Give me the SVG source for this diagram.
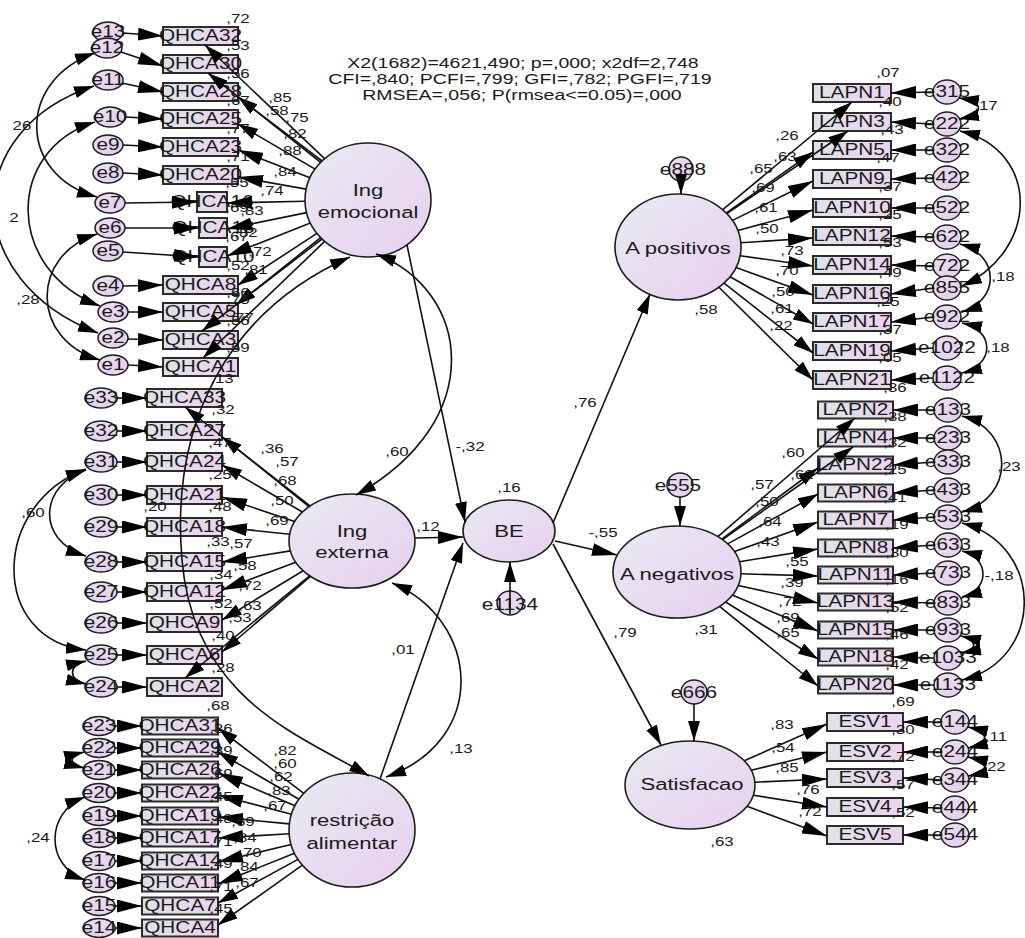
<svg xmlns="http://www.w3.org/2000/svg" width="1025" height="938" viewBox="0 0 1025 938">
<style>
.t{font-family:"Liberation Sans",Arial,sans-serif;fill:#1a1a1a;text-anchor:middle;transform-box:fill-box;transform-origin:center;transform:scaleX(1.3)}
.s17{font-size:17px}.s16{font-size:16px}.s15{font-size:15px}.s13{font-size:13px}
.bx{fill:url(#gb);stroke:#2b2b2b;stroke-width:2}
.ec{fill:url(#ge);stroke:#1e1e1e;stroke-width:1.5}
.lt{fill:url(#gl);stroke:#1e1e1e;stroke-width:1.6}
.c{fill:none;stroke:#111;stroke-width:1.6;marker-end:url(#ah)}
.h{marker-end:url(#ahh)}
.d{fill:none;stroke:#111;stroke-width:1.6;marker-end:url(#ah);marker-start:url(#ah)}
</style>
<defs>
<linearGradient id="gl" x1="0" y1="0" x2="1" y2="1"><stop offset="0" stop-color="#e9eaf2"/><stop offset="1" stop-color="#e7cfee"/></linearGradient>
<linearGradient id="gb" x1="0" y1="0" x2="1" y2="0"><stop offset="0" stop-color="#dfe2e9"/><stop offset="1" stop-color="#ecd3ee"/></linearGradient>
<linearGradient id="ge" x1="0" y1="0" x2="1" y2="1"><stop offset="0" stop-color="#ece0f2"/><stop offset="1" stop-color="#e4cdee"/></linearGradient>
<marker id="ah" viewBox="0 0 20 12" refX="20" refY="6" markerWidth="20" markerHeight="12" markerUnits="userSpaceOnUse" orient="auto-start-reverse"><path d="M0,0 L20,6 L0,12 z" fill="#000"/></marker>
<marker id="ahh" viewBox="0 0 25 13" refX="25" refY="6.5" markerWidth="25" markerHeight="13" markerUnits="userSpaceOnUse" orient="auto"><path d="M0,0 L25,6.5 L0,13 z" fill="#000"/></marker>
</defs>

<g id="fit">
<text class="t s15" x="523" y="68">X2(1682)=4621,490; p=,000; x2df=2,748</text>
<text class="t s15" x="520" y="84">CFI=,840; PCFI=,799; GFI=,782; PGFI=,719</text>
<text class="t s15" x="522" y="100">RMSEA=,056; P(rmsea&lt;=0.05)=,000</text>
</g>

<g id="latents">
<g id="IngEmocional"><ellipse class="lt" cx="368" cy="200" rx="63" ry="57"/><text class="t s17" x="368" y="196">Ing</text><text class="t s17" x="368" y="218">emocional</text></g>
<g id="IngExterna"><ellipse class="lt" cx="352" cy="541" rx="63" ry="47"/><text class="t s17" x="352" y="537">Ing</text><text class="t s17" x="352" y="558">externa</text></g>
<g id="Restricao"><ellipse class="lt" cx="352" cy="830" rx="63" ry="57"/><text class="t s17" x="352" y="826">restrição</text><text class="t s17" x="352" y="849">alimentar</text></g>
<g id="BE"><ellipse class="lt" cx="509" cy="531" rx="46" ry="31"/><text class="t s17" x="509" y="537">BE</text></g>
<g id="APositivos"><ellipse class="lt" cx="678" cy="247" rx="63" ry="53"/><text class="t s17" x="678" y="254">A positivos</text></g>
<g id="ANegativos"><ellipse class="lt" cx="677" cy="572" rx="64" ry="46"/><text class="t s17" x="677" y="580">A negativos</text></g>
<g id="Satisfacao"><ellipse class="lt" cx="690" cy="785" rx="65" ry="44"/><text class="t s17" x="692" y="790">Satisfacao</text></g>
</g>

<g id="observed-left">
<g id="QHCA32"><rect class="bx" x="163" y="27" width="75" height="18"/><text class="t s16" x="200.5" y="41.5">QHCA32</text></g>
<g id="QHCA30"><rect class="bx" x="163" y="55" width="75" height="18"/><text class="t s16" x="200.5" y="69.5">QHCA30</text></g>
<g id="QHCA28"><rect class="bx" x="163" y="83" width="75" height="18"/><text class="t s16" x="200.5" y="97.5">QHCA28</text></g>
<g id="QHCA25"><rect class="bx" x="163" y="110" width="75" height="18"/><text class="t s16" x="200.5" y="124.5">QHCA25</text></g>
<g id="QHCA23"><rect class="bx" x="163" y="138" width="75" height="18"/><text class="t s16" x="200.5" y="152.5">QHCA23</text></g>
<g id="QHCA20"><rect class="bx" x="163" y="166" width="75" height="18"/><text class="t s16" x="200.5" y="180.5">QHCA20</text></g>
<g id="QHCA16"><rect class="bx" x="197" y="192" width="30" height="20"/><text class="t s16" x="212" y="207.5">QHCA16</text></g>
<g id="QHCA13"><rect class="bx" x="199" y="218" width="28" height="20"/><text class="t s16" x="213" y="233.5">QHCA13</text></g>
<g id="QHCA10"><rect class="bx" x="199" y="247" width="28" height="20"/><text class="t s16" x="213" y="262.5">QHCA10</text></g>
<g id="QHCA8"><rect class="bx" x="163" y="276" width="75" height="18"/><text class="t s16" x="200.5" y="290.5">QHCA8</text></g>
<g id="QHCA5"><rect class="bx" x="163" y="303" width="75" height="18"/><text class="t s16" x="200.5" y="317.5">QHCA5</text></g>
<g id="QHCA3"><rect class="bx" x="163" y="331" width="75" height="18"/><text class="t s16" x="200.5" y="345.5">QHCA3</text></g>
<g id="QHCA1"><rect class="bx" x="163" y="358" width="75" height="18"/><text class="t s16" x="200.5" y="372.5">QHCA1</text></g>

<g id="QHCA33"><rect class="bx" x="147" y="389" width="75" height="18"/><text class="t s16" x="184.5" y="403.5">QHCA33</text></g>
<g id="QHCA27"><rect class="bx" x="147" y="422" width="75" height="18"/><text class="t s16" x="184.5" y="436.5">QHCA27</text></g>
<g id="QHCA24"><rect class="bx" x="147" y="453" width="75" height="18"/><text class="t s16" x="184.5" y="467.5">QHCA24</text></g>
<g id="QHCA21"><rect class="bx" x="147" y="486" width="75" height="18"/><text class="t s16" x="184.5" y="500.5">QHCA21</text></g>
<g id="QHCA18"><rect class="bx" x="147" y="518" width="75" height="18"/><text class="t s16" x="184.5" y="532.5">QHCA18</text></g>
<g id="QHCA15"><rect class="bx" x="147" y="553" width="75" height="18"/><text class="t s16" x="184.5" y="567.5">QHCA15</text></g>
<g id="QHCA12"><rect class="bx" x="147" y="583" width="75" height="18"/><text class="t s16" x="184.5" y="597.5">QHCA12</text></g>
<g id="QHCA9"><rect class="bx" x="147" y="614" width="75" height="18"/><text class="t s16" x="184.5" y="628.5">QHCA9</text></g>
<g id="QHCA6"><rect class="bx" x="147" y="646" width="75" height="18"/><text class="t s16" x="184.5" y="660.5">QHCA6</text></g>
<g id="QHCA2"><rect class="bx" x="147" y="678" width="75" height="18"/><text class="t s16" x="184.5" y="692.5">QHCA2</text></g>

<g id="QHCA31"><rect class="bx" x="142" y="717.5" width="76" height="17"/><text class="t s16" x="180" y="731.5">QHCA31</text></g>
<g id="QHCA29"><rect class="bx" x="142" y="739.5" width="76" height="17"/><text class="t s16" x="180" y="753.5">QHCA29</text></g>
<g id="QHCA26"><rect class="bx" x="142" y="761.5" width="76" height="17"/><text class="t s16" x="180" y="775.5">QHCA26</text></g>
<g id="QHCA22"><rect class="bx" x="142" y="784.5" width="76" height="17"/><text class="t s16" x="180" y="798.5">QHCA22</text></g>
<g id="QHCA19"><rect class="bx" x="142" y="807.5" width="76" height="17"/><text class="t s16" x="180" y="821.5">QHCA19</text></g>
<g id="QHCA17"><rect class="bx" x="142" y="829.5" width="76" height="17"/><text class="t s16" x="180" y="843.5">QHCA17</text></g>
<g id="QHCA14"><rect class="bx" x="142" y="852.5" width="76" height="17"/><text class="t s16" x="180" y="866.5">QHCA14</text></g>
<g id="QHCA11"><rect class="bx" x="142" y="874.5" width="76" height="17"/><text class="t s16" x="180" y="888.5">QHCA11</text></g>
<g id="QHCA7"><rect class="bx" x="142" y="897.5" width="76" height="17"/><text class="t s16" x="180" y="911.5">QHCA7</text></g>
<g id="QHCA4"><rect class="bx" x="142" y="919.5" width="76" height="17"/><text class="t s16" x="180" y="933.5">QHCA4</text></g>
</g>

<g id="errors-left">
<g id="e13"><ellipse class="ec" cx="108" cy="32" rx="15" ry="10"/><text class="t s16" x="108" y="37.5">e13</text></g>
<g id="e12"><ellipse class="ec" cx="107" cy="48" rx="15" ry="10"/><text class="t s16" x="107" y="53.5">e12</text></g>
<g id="e11"><ellipse class="ec" cx="108" cy="80" rx="15" ry="10"/><text class="t s16" x="108" y="85.5">e11</text></g>
<g id="e10"><ellipse class="ec" cx="110" cy="117" rx="15" ry="10"/><text class="t s16" x="110" y="122.5">e10</text></g>
<g id="e9"><ellipse class="ec" cx="108" cy="145" rx="15" ry="10"/><text class="t s16" x="108" y="150.5">e9</text></g>
<g id="e8"><ellipse class="ec" cx="108" cy="173" rx="15" ry="10"/><text class="t s16" x="108" y="178.5">e8</text></g>
<g id="e7"><ellipse class="ec" cx="110" cy="203" rx="15" ry="10"/><text class="t s16" x="110" y="208.5">e7</text></g>
<g id="e6"><ellipse class="ec" cx="110" cy="228" rx="15" ry="10"/><text class="t s16" x="110" y="233.5">e6</text></g>
<g id="e5"><ellipse class="ec" cx="108" cy="251" rx="15" ry="10"/><text class="t s16" x="108" y="256.5">e5</text></g>
<g id="e4"><ellipse class="ec" cx="108" cy="286" rx="15" ry="10"/><text class="t s16" x="108" y="291.5">e4</text></g>
<g id="e3"><ellipse class="ec" cx="113" cy="312" rx="15" ry="10"/><text class="t s16" x="113" y="317.5">e3</text></g>
<g id="e2"><ellipse class="ec" cx="113" cy="338" rx="15" ry="10"/><text class="t s16" x="113" y="343.5">e2</text></g>
<g id="e1"><ellipse class="ec" cx="113" cy="365" rx="15" ry="10"/><text class="t s16" x="113" y="370.5">e1</text></g>
<g id="e33"><ellipse class="ec" cx="101" cy="398" rx="16" ry="10"/><text class="t s16" x="101" y="403.5">e33</text></g>
<g id="e32"><ellipse class="ec" cx="101" cy="431" rx="16" ry="10"/><text class="t s16" x="101" y="436.5">e32</text></g>
<g id="e31"><ellipse class="ec" cx="101" cy="462" rx="16" ry="10"/><text class="t s16" x="101" y="467.5">e31</text></g>
<g id="e30"><ellipse class="ec" cx="101" cy="495" rx="16" ry="10"/><text class="t s16" x="101" y="500.5">e30</text></g>
<g id="e29"><ellipse class="ec" cx="101" cy="527" rx="16" ry="10"/><text class="t s16" x="101" y="532.5">e29</text></g>
<g id="e28"><ellipse class="ec" cx="101" cy="562" rx="16" ry="10"/><text class="t s16" x="101" y="567.5">e28</text></g>
<g id="e27"><ellipse class="ec" cx="101" cy="592" rx="16" ry="10"/><text class="t s16" x="101" y="597.5">e27</text></g>
<g id="e26"><ellipse class="ec" cx="101" cy="623" rx="16" ry="10"/><text class="t s16" x="101" y="628.5">e26</text></g>
<g id="e25"><ellipse class="ec" cx="101" cy="655" rx="16" ry="10"/><text class="t s16" x="101" y="660.5">e25</text></g>
<g id="e24"><ellipse class="ec" cx="101" cy="687" rx="16" ry="10"/><text class="t s16" x="101" y="692.5">e24</text></g>
<g id="e23"><ellipse class="ec" cx="99" cy="726" rx="16" ry="9.5"/><text class="t s16" x="99" y="731.5">e23</text></g>
<g id="e22"><ellipse class="ec" cx="99" cy="748" rx="16" ry="9.5"/><text class="t s16" x="99" y="753.5">e22</text></g>
<g id="e21"><ellipse class="ec" cx="99" cy="770" rx="16" ry="9.5"/><text class="t s16" x="99" y="775.5">e21</text></g>
<g id="e20"><ellipse class="ec" cx="99" cy="793" rx="16" ry="9.5"/><text class="t s16" x="99" y="798.5">e20</text></g>
<g id="e19"><ellipse class="ec" cx="99" cy="816" rx="16" ry="9.5"/><text class="t s16" x="99" y="821.5">e19</text></g>
<g id="e18"><ellipse class="ec" cx="99" cy="838" rx="16" ry="9.5"/><text class="t s16" x="99" y="843.5">e18</text></g>
<g id="e17"><ellipse class="ec" cx="99" cy="861" rx="16" ry="9.5"/><text class="t s16" x="99" y="866.5">e17</text></g>
<g id="e16"><ellipse class="ec" cx="99" cy="883" rx="16" ry="9.5"/><text class="t s16" x="99" y="888.5">e16</text></g>
<g id="e15"><ellipse class="ec" cx="99" cy="906" rx="16" ry="9.5"/><text class="t s16" x="99" y="911.5">e15</text></g>
<g id="e14"><ellipse class="ec" cx="99" cy="928" rx="16" ry="9.5"/><text class="t s16" x="99" y="933.5">e14</text></g>
</g>

<g id="observed-right">
<g id="LAPN1"><rect class="bx" x="813" y="84" width="78" height="18"/><text class="t s16" x="852" y="98.5">LAPN1</text></g>
<g id="LAPN3"><rect class="bx" x="813" y="113" width="78" height="18"/><text class="t s16" x="852" y="127.5">LAPN3</text></g>
<g id="LAPN5"><rect class="bx" x="813" y="141" width="78" height="18"/><text class="t s16" x="852" y="155.5">LAPN5</text></g>
<g id="LAPN9"><rect class="bx" x="813" y="170" width="78" height="18"/><text class="t s16" x="852" y="184.5">LAPN9</text></g>
<g id="LAPN10"><rect class="bx" x="813" y="199" width="78" height="18"/><text class="t s16" x="852" y="213.5">LAPN10</text></g>
<g id="LAPN12"><rect class="bx" x="813" y="227" width="78" height="18"/><text class="t s16" x="852" y="241.5">LAPN12</text></g>
<g id="LAPN14"><rect class="bx" x="813" y="256" width="78" height="18"/><text class="t s16" x="852" y="270.5">LAPN14</text></g>
<g id="LAPN16"><rect class="bx" x="813" y="285" width="78" height="18"/><text class="t s16" x="852" y="299.5">LAPN16</text></g>
<g id="LAPN17"><rect class="bx" x="813" y="313" width="78" height="18"/><text class="t s16" x="852" y="327.5">LAPN17</text></g>
<g id="LAPN19"><rect class="bx" x="813" y="342" width="78" height="18"/><text class="t s16" x="852" y="356.5">LAPN19</text></g>
<g id="LAPN21"><rect class="bx" x="813" y="371" width="78" height="18"/><text class="t s16" x="852" y="385.5">LAPN21</text></g>

<g id="LAPN2"><rect class="bx" x="818" y="401.5" width="75" height="17"/><text class="t s16" x="855.5" y="415.5">LAPN2</text></g>
<g id="LAPN4"><rect class="bx" x="818" y="429.5" width="75" height="17"/><text class="t s16" x="855.5" y="443.5">LAPN4</text></g>
<g id="LAPN22"><rect class="bx" x="818" y="456.5" width="75" height="17"/><text class="t s16" x="855.5" y="470.5">LAPN22</text></g>
<g id="LAPN6"><rect class="bx" x="818" y="484.5" width="75" height="17"/><text class="t s16" x="855.5" y="498.5">LAPN6</text></g>
<g id="LAPN7"><rect class="bx" x="818" y="511.5" width="75" height="17"/><text class="t s16" x="855.5" y="525.5">LAPN7</text></g>
<g id="LAPN8"><rect class="bx" x="818" y="539.5" width="75" height="17"/><text class="t s16" x="855.5" y="553.5">LAPN8</text></g>
<g id="LAPN11"><rect class="bx" x="818" y="566.5" width="75" height="17"/><text class="t s16" x="855.5" y="580.5">LAPN11</text></g>
<g id="LAPN13"><rect class="bx" x="818" y="593.5" width="75" height="17"/><text class="t s16" x="855.5" y="607.5">LAPN13</text></g>
<g id="LAPN15"><rect class="bx" x="818" y="621.5" width="75" height="17"/><text class="t s16" x="855.5" y="635.5">LAPN15</text></g>
<g id="LAPN18"><rect class="bx" x="818" y="648.5" width="75" height="17"/><text class="t s16" x="855.5" y="662.5">LAPN18</text></g>
<g id="LAPN20"><rect class="bx" x="818" y="676.5" width="75" height="17"/><text class="t s16" x="855.5" y="690.5">LAPN20</text></g>

<g id="ESV1"><rect class="bx" x="827" y="713" width="76" height="18"/><text class="t s16" x="865" y="727.5">ESV1</text></g>
<g id="ESV2"><rect class="bx" x="827" y="743" width="76" height="18"/><text class="t s16" x="865" y="757.5">ESV2</text></g>
<g id="ESV3"><rect class="bx" x="827" y="769" width="76" height="18"/><text class="t s16" x="865" y="783.5">ESV3</text></g>
<g id="ESV4"><rect class="bx" x="827" y="798" width="76" height="18"/><text class="t s16" x="865" y="812.5">ESV4</text></g>
<g id="ESV5"><rect class="bx" x="827" y="826" width="76" height="18"/><text class="t s16" x="865" y="840.5">ESV5</text></g>
</g>

<g id="errors-right">
<g id="e315"><ellipse class="ec" cx="947" cy="92" rx="14" ry="12"/><text class="t s16" x="947" y="97.5">e315</text></g>
<g id="e222"><ellipse class="ec" cx="947" cy="124" rx="14" ry="12"/><text class="t s16" x="947" y="129.5">e222</text></g>
<g id="e322"><ellipse class="ec" cx="947" cy="150" rx="14" ry="12"/><text class="t s16" x="947" y="155.5">e322</text></g>
<g id="e422"><ellipse class="ec" cx="947" cy="178" rx="14" ry="12"/><text class="t s16" x="947" y="183.5">e422</text></g>
<g id="e522"><ellipse class="ec" cx="947" cy="208" rx="14" ry="12"/><text class="t s16" x="947" y="213.5">e522</text></g>
<g id="e622"><ellipse class="ec" cx="947" cy="237" rx="14" ry="12"/><text class="t s16" x="947" y="242.5">e622</text></g>
<g id="e722"><ellipse class="ec" cx="947" cy="266" rx="14" ry="12"/><text class="t s16" x="947" y="271.5">e722</text></g>
<g id="e855"><ellipse class="ec" cx="947" cy="288" rx="14" ry="12"/><text class="t s16" x="947" y="293.5">e855</text></g>
<g id="e922"><ellipse class="ec" cx="947" cy="317" rx="14" ry="12"/><text class="t s16" x="947" y="322.5">e922</text></g>
<g id="e1022"><ellipse class="ec" cx="947" cy="348" rx="14" ry="12"/><text class="t s16" x="947" y="353.5">e1022</text></g>
<g id="e1122"><ellipse class="ec" cx="947" cy="378" rx="14" ry="12"/><text class="t s16" x="947" y="383.5">e1122</text></g>
<g id="e133"><ellipse class="ec" cx="948" cy="410" rx="14" ry="12"/><text class="t s16" x="948" y="415.5">e133</text></g>
<g id="e233"><ellipse class="ec" cx="948" cy="438" rx="14" ry="12"/><text class="t s16" x="948" y="443.5">e233</text></g>
<g id="e333"><ellipse class="ec" cx="948" cy="462" rx="14" ry="12"/><text class="t s16" x="948" y="467.5">e333</text></g>
<g id="e433"><ellipse class="ec" cx="948" cy="490" rx="14" ry="12"/><text class="t s16" x="948" y="495.5">e433</text></g>
<g id="e533"><ellipse class="ec" cx="948" cy="517" rx="14" ry="12"/><text class="t s16" x="948" y="522.5">e533</text></g>
<g id="e633"><ellipse class="ec" cx="948" cy="545" rx="14" ry="12"/><text class="t s16" x="948" y="550.5">e633</text></g>
<g id="e733"><ellipse class="ec" cx="948" cy="573" rx="14" ry="12"/><text class="t s16" x="948" y="578.5">e733</text></g>
<g id="e833"><ellipse class="ec" cx="948" cy="603" rx="14" ry="12"/><text class="t s16" x="948" y="608.5">e833</text></g>
<g id="e933"><ellipse class="ec" cx="948" cy="630" rx="14" ry="12"/><text class="t s16" x="948" y="635.5">e933</text></g>
<g id="e1033"><ellipse class="ec" cx="948" cy="658" rx="14" ry="12"/><text class="t s16" x="948" y="663.5">e1033</text></g>
<g id="e1133"><ellipse class="ec" cx="948" cy="685" rx="14" ry="12"/><text class="t s16" x="948" y="690.5">e1133</text></g>
<g id="e144"><ellipse class="ec" cx="955" cy="722" rx="14" ry="12"/><text class="t s16" x="955" y="727.5">e144</text></g>
<g id="e244"><ellipse class="ec" cx="955" cy="752" rx="14" ry="12"/><text class="t s16" x="955" y="757.5">e244</text></g>
<g id="e344"><ellipse class="ec" cx="955" cy="780" rx="14" ry="12"/><text class="t s16" x="955" y="785.5">e344</text></g>
<g id="e444"><ellipse class="ec" cx="955" cy="808" rx="14" ry="12"/><text class="t s16" x="955" y="813.5">e444</text></g>
<g id="e544"><ellipse class="ec" cx="955" cy="835" rx="14" ry="12"/><text class="t s16" x="955" y="840.5">e544</text></g>
<g id="e1134"><ellipse class="ec" cx="510" cy="603" rx="13" ry="12"/><text class="t s16" x="510" y="610">e1134</text></g>
<g id="e555"><ellipse class="ec" cx="680" cy="485" rx="13" ry="12"/><text class="t s16" x="678" y="491">e555</text></g>
<g id="e666"><ellipse class="ec" cx="694" cy="692" rx="13" ry="12"/><text class="t s16" x="694" y="698">e666</text></g>
<g id="e888"><ellipse class="ec" cx="681" cy="169" rx="12" ry="12"/><text class="t s16" x="683" y="175">e888</text></g>
</g>

<g id="connectors">
<path class="c h" d="M123,33 L163,36"/><path class="c h" d="M121,52 L163,66"/><path class="c h" d="M122,83 L163,92"/><path class="c h" d="M125,117 L163,119"/><path class="c h" d="M123,145 L163,147"/><path class="c h" d="M123,173 L163,175"/><path class="c h" d="M125,203 L197,202"/><path class="c h" d="M125,228 L199,228"/><path class="c h" d="M123,252 L199,257"/><path class="c h" d="M123,286 L163,285"/><path class="c h" d="M128,312 L163,312"/><path class="c h" d="M128,339 L163,340"/><path class="c h" d="M128,365 L163,367"/>
<path class="c h" d="M117,398 L147,398"/><path class="c h" d="M117,431 L147,431"/><path class="c h" d="M117,462 L147,462"/><path class="c h" d="M117,495 L147,495"/><path class="c h" d="M117,527 L147,527"/><path class="c h" d="M117,562 L147,562"/><path class="c h" d="M117,592 L147,592"/><path class="c h" d="M117,623 L147,623"/><path class="c h" d="M117,655 L147,655"/><path class="c h" d="M117,687 L147,687"/>
<path class="c h" d="M115,726 L142,726"/><path class="c h" d="M115,748 L142,748"/><path class="c h" d="M115,770 L142,770"/><path class="c h" d="M115,793 L142,793"/><path class="c h" d="M115,816 L142,816"/><path class="c h" d="M115,838 L142,838"/><path class="c h" d="M115,861 L142,861"/><path class="c h" d="M115,883 L142,883"/><path class="c h" d="M115,906 L142,906"/><path class="c h" d="M115,928 L142,928"/>

<path class="c" d="M324.6,158.7 L205,45"/><path class="c" d="M320.6,162.4 L208,73"/><path class="c" d="M322,161 L238,97"/><path class="c" d="M315.1,169.1 L238,124"/><path class="c h" d="M310,177.7 L238,150"/><path class="c h" d="M306.2,189.1 L238,177"/><path class="c h" d="M305,201.3 L227,203"/><path class="c h" d="M306.6,212.6 L227,229"/><path class="c h" d="M310.3,222.9 L227,256"/><path class="c" d="M316.9,233.4 L238,285"/><path class="c" d="M320.7,237.6 L236,305"/><path class="c" d="M322,239 L202,331"/><path class="c" d="M324.7,241.4 L203,358"/>

<path class="c" d="M309,506.6 L185,407"/><path class="c" d="M310,506 L222,437"/><path class="c" d="M302.4,512 L222,465"/><path class="c h" d="M294.6,521.6 L222,497"/><path class="c h" d="M289.7,534.3 L222,527"/><path class="c h" d="M290.4,550.9 L222,562"/><path class="c h" d="M295.8,562.2 L222,590"/><path class="c" d="M303.1,570.7 L222,620"/><path class="c" d="M310.5,576.4 L222,652"/><path class="c" d="M309.6,575.8 L185,678"/>

<path class="c" d="M303.8,793.3 L218,728"/><path class="c" d="M299,799.2 L218,752"/><path class="c h" d="M295,805.7 L218,773"/><path class="c h" d="M291.5,814.2 L218,795"/><path class="c h" d="M289.4,823.9 L218,817"/><path class="c h" d="M289.1,833.8 L218,838"/><path class="c h" d="M291.1,844.5 L218,862"/><path class="c h" d="M294.5,853.2 L218,884"/><path class="c" d="M298,859.4 L218,903"/><path class="c" d="M302.4,865.2 L218,925"/>

<path class="c" d="M722.8,209.7 L852,102"/><path class="c" d="M726.9,213.6 L848,131"/><path class="c" d="M726.3,213 L813,152"/><path class="c h" d="M732.5,220.4 L813,181"/><path class="c h" d="M737.9,230.6 L813,210"/><path class="c h" d="M740.8,242.8 L813,238"/><path class="c h" d="M740.1,255.7 L813,266"/><path class="c h" d="M736,267.6 L813,295"/><path class="c" d="M730.1,276.7 L813,324"/><path class="c" d="M724.1,283.2 L813,353"/><path class="c" d="M718.9,287.3 L813,380"/>

<path class="c" d="M717.9,536.6 L855,418"/><path class="c" d="M722.5,539.7 L853,447"/><path class="c" d="M721.7,539.1 L818,468"/><path class="c" d="M727.7,543.9 L818,494"/><path class="c h" d="M734.4,551.6 L818,522"/><path class="c h" d="M739.4,561.8 L818,549"/><path class="c h" d="M741,573.8 L818,576"/><path class="c h" d="M738.2,585.5 L818,603"/><path class="c h" d="M732.3,595.1 L818,631"/><path class="c" d="M725.6,602 L818,659"/><path class="c" d="M719.5,606.4 L818,686"/>

<path class="c h" d="M744.3,760.8 L827,724"/><path class="c h" d="M751.2,770.2 L827,752"/><path class="c h" d="M754.9,782.2 L827,779"/><path class="c h" d="M753.3,795.2 L827,807"/><path class="c h" d="M747,806.2 L827,836"/>

<path class="c h" d="M933,92 L891,93"/><path class="c h" d="M933,124 L891,122"/><path class="c h" d="M933,150 L891,150"/><path class="c h" d="M933,178 L891,179"/><path class="c h" d="M933,208 L891,208"/><path class="c h" d="M933,237 L891,236"/><path class="c h" d="M933,266 L891,265"/><path class="c h" d="M933,288 L891,294"/><path class="c h" d="M933,317 L891,322"/><path class="c h" d="M933,348 L891,351"/><path class="c h" d="M933,378 L891,380"/>
<path class="c h" d="M934,410 L893,410"/><path class="c h" d="M934,438 L893,438"/><path class="c h" d="M934,462 L893,465"/><path class="c h" d="M934,490 L893,493"/><path class="c h" d="M934,517 L893,520"/><path class="c h" d="M934,545 L893,548"/><path class="c h" d="M934,573 L893,575"/><path class="c h" d="M934,603 L893,602"/><path class="c h" d="M934,630 L893,630"/><path class="c h" d="M934,658 L893,657"/><path class="c h" d="M934,685 L893,685"/>
<path class="c h" d="M941,722 L903,722"/><path class="c h" d="M941,752 L903,752"/><path class="c h" d="M941,780 L903,778"/><path class="c h" d="M941,808 L903,807"/><path class="c h" d="M941,835 L903,835"/>

<path class="c" d="M407,245 L465,522"/>
<path class="c h" d="M415,538 L463,537"/>
<path class="c" d="M380,779 L463,543"/>
<path class="c" d="M510,614 L510,562"/>
<path class="c" d="M553,523 L650,294"/>
<path class="c h" d="M555,541 L617,555"/>
<path class="c" d="M553,544 L661,745"/>
<path class="c" d="M680,497 L680,526"/>
<path class="c" d="M694,704 L694,741"/>
<path class="c" d="M681,181 L681,194"/>

<path class="d" d="M95,53 C17,80 17,175 97,197"/>
<path class="d" d="M94,86 C-40,130 -40,280 98,333"/>
<path class="d" d="M95,122 C5,150 5,270 100,306"/>
<path class="d" d="M97,234 C30,255 30,340 100,360"/>
<path class="d" d="M86,470 C40,485 35,540 86,556"/>
<path class="d" d="M86,469 C-10,505 -10,640 86,650"/>
<path class="d" d="M86,661 C68,665 68,680 86,684"/>
<path class="d" d="M84,752 C68,756 68,764 84,768"/>
<path class="d" d="M85,797 C45,812 45,866 85,880"/>
<path class="d" d="M376,254 C470,290 490,420 356,495"/>
<path class="d" d="M350,257 C230,310 170,420 182,560 C194,700 300,735 369,776"/>
<path class="d" d="M392,583 C480,620 490,740 386,777"/>
<path class="d" d="M959,98 C985,102 985,114 959,119"/>
<path class="d" d="M960,131 C1040,150 1040,250 962,286"/>
<path class="d" d="M960,244 C1000,255 1000,300 962,312"/>
<path class="d" d="M962,323 C995,330 995,365 962,373"/>
<path class="d" d="M962,416 C1015,430 1015,498 962,512"/>
<path class="d" d="M962,523 C1045,545 1045,660 962,680"/>
<path class="d" d="M962,551 C990,558 990,590 962,597"/>
<path class="d" d="M961,636 C978,640 978,650 961,653"/>
<path class="d" d="M968,727 C990,732 990,743 968,748"/>
<path class="d" d="M968,757 C990,762 990,772 968,776"/>
</g>

<g id="estimates">
<text class="t s13" x="280" y="102">,85</text><text class="t s13" x="277" y="115">,58</text><text class="t s13" x="297" y="122">,75</text><text class="t s13" x="295" y="138">,82</text><text class="t s13" x="290" y="155">,88</text><text class="t s13" x="285" y="176">,84</text><text class="t s13" x="272" y="195">,74</text><text class="t s13" x="252" y="215">,83</text><text class="t s13" x="246" y="237">,82</text><text class="t s13" x="260" y="256">,72</text><text class="t s13" x="256" y="274">,81</text><text class="t s13" x="238" y="304">,75</text><text class="t s13" x="242" y="322">,77</text>
<text class="t s13" x="238" y="23">,72</text><text class="t s13" x="238" y="50">,53</text><text class="t s13" x="238" y="78">,56</text><text class="t s13" x="238" y="105">,67</text><text class="t s13" x="238" y="133">,77</text><text class="t s13" x="238" y="161">,71</text><text class="t s13" x="237" y="187">,55</text><text class="t s13" x="237" y="212">,69</text><text class="t s13" x="237" y="241">,67</text><text class="t s13" x="238" y="270">,52</text><text class="t s13" x="238" y="297">,66</text><text class="t s13" x="238" y="325">,56</text><text class="t s13" x="238" y="352">,59</text>

<text class="t s13" x="272" y="453">,36</text><text class="t s13" x="287" y="466">,57</text><text class="t s13" x="285" y="485">,68</text><text class="t s13" x="282" y="505">,50</text><text class="t s13" x="277" y="525">,69</text><text class="t s13" x="241" y="548">,57</text><text class="t s13" x="245" y="570">,58</text><text class="t s13" x="250" y="590">,72</text><text class="t s13" x="250" y="610">,63</text><text class="t s13" x="240" y="622">,53</text>
<text class="t s13" x="222" y="383">,13</text><text class="t s13" x="223" y="414">,32</text><text class="t s13" x="220" y="447">,47</text><text class="t s13" x="220" y="479">,25</text><text class="t s13" x="220" y="511">,48</text><text class="t s13" x="218" y="546">,33</text><text class="t s13" x="221" y="579">,34</text><text class="t s13" x="221" y="608">,52</text><text class="t s13" x="223" y="640">,40</text><text class="t s13" x="223" y="672">,28</text>

<text class="t s13" x="285" y="755">,82</text><text class="t s13" x="285" y="768">,60</text><text class="t s13" x="281" y="781">,62</text><text class="t s13" x="279" y="795">,83</text><text class="t s13" x="275" y="810">,67</text><text class="t s13" x="243" y="826">,69</text><text class="t s13" x="245" y="842">,84</text><text class="t s13" x="250" y="857">,70</text><text class="t s13" x="247" y="871">,84</text><text class="t s13" x="247" y="887">,67</text>
<text class="t s13" x="218" y="710">,68</text><text class="t s13" x="221" y="733">,36</text><text class="t s13" x="221" y="755">,39</text><text class="t s13" x="221" y="778">,69</text><text class="t s13" x="221" y="801">,45</text><text class="t s13" x="221" y="823">,48</text><text class="t s13" x="221" y="846">,71</text><text class="t s13" x="221" y="868">,49</text><text class="t s13" x="221" y="891">,71</text><text class="t s13" x="221" y="913">,45</text>

<text class="t s13" x="787" y="140">,26</text><text class="t s13" x="761" y="173">,65</text><text class="t s13" x="785" y="161">,63</text><text class="t s13" x="763" y="192">,69</text><text class="t s13" x="766" y="212">,61</text><text class="t s13" x="767" y="233">,50</text><text class="t s13" x="792" y="255">,73</text><text class="t s13" x="787" y="275">,70</text><text class="t s13" x="783" y="296">,50</text><text class="t s13" x="782" y="313">,61</text><text class="t s13" x="781" y="330">,22</text>
<text class="t s13" x="888" y="77">,07</text><text class="t s13" x="890" y="106">,40</text><text class="t s13" x="892" y="134">,43</text><text class="t s13" x="888" y="162">,47</text><text class="t s13" x="890" y="191">,37</text><text class="t s13" x="890" y="219">,25</text><text class="t s13" x="890" y="247">,53</text><text class="t s13" x="890" y="277">,49</text><text class="t s13" x="888" y="306">,25</text><text class="t s13" x="890" y="334">,37</text><text class="t s13" x="890" y="362">,05</text>

<text class="t s13" x="793" y="457">,60</text><text class="t s13" x="762" y="489">,57</text><text class="t s13" x="802" y="479">,62</text><text class="t s13" x="767" y="506">,50</text><text class="t s13" x="770" y="526">,64</text><text class="t s13" x="768" y="546">,43</text><text class="t s13" x="797" y="566">,55</text><text class="t s13" x="792" y="587">,39</text><text class="t s13" x="790" y="606">,72</text><text class="t s13" x="788" y="622">,69</text><text class="t s13" x="788" y="637">,65</text>
<text class="t s13" x="895" y="392">,36</text><text class="t s13" x="895" y="421">,38</text><text class="t s13" x="895" y="447">,32</text><text class="t s13" x="895" y="474">,25</text><text class="t s13" x="895" y="502">,41</text><text class="t s13" x="897" y="529">,19</text><text class="t s13" x="897" y="557">,30</text><text class="t s13" x="897" y="584">,16</text><text class="t s13" x="897" y="612">,52</text><text class="t s13" x="897" y="639">,46</text><text class="t s13" x="897" y="669">,42</text>

<text class="t s13" x="782" y="729">,83</text><text class="t s13" x="783" y="752">,54</text><text class="t s13" x="787" y="772">,85</text><text class="t s13" x="808" y="794">,76</text><text class="t s13" x="810" y="816">,72</text>
<text class="t s13" x="903" y="706">,69</text><text class="t s13" x="903" y="734">,30</text><text class="t s13" x="903" y="761">,72</text><text class="t s13" x="903" y="789">,57</text><text class="t s13" x="903" y="817">,52</text>

<text class="t s13" x="470" y="451">-,32</text><text class="t s13" x="428" y="531">,12</text><text class="t s13" x="403" y="654">,01</text><text class="t s13" x="509" y="492">,16</text><text class="t s13" x="585" y="407">,76</text><text class="t s13" x="603" y="537">-,55</text><text class="t s13" x="625" y="637">,79</text>
<text class="t s13" x="397" y="456">,60</text><text class="t s13" x="461" y="753">,13</text><text class="t s13" x="155" y="511">,20</text>
<text class="t s13" x="706" y="314">,58</text><text class="t s13" x="706" y="634">,31</text><text class="t s13" x="722" y="846">,63</text>
<text class="t s13" x="22" y="130">26</text><text class="t s13" x="14" y="222">2</text><text class="t s13" x="28" y="304">,28</text><text class="t s13" x="33" y="517">,60</text><text class="t s13" x="38" y="842">,24</text>
<text class="t s13" x="986" y="110">,17</text><text class="t s13" x="1003" y="281">,18</text><text class="t s13" x="998" y="352">,18</text><text class="t s13" x="1009" y="471">,23</text><text class="t s13" x="999" y="580">-,18</text>
<text class="t s13" x="996" y="741">,11</text><text class="t s13" x="994" y="771">,22</text>
</g>
</svg>
